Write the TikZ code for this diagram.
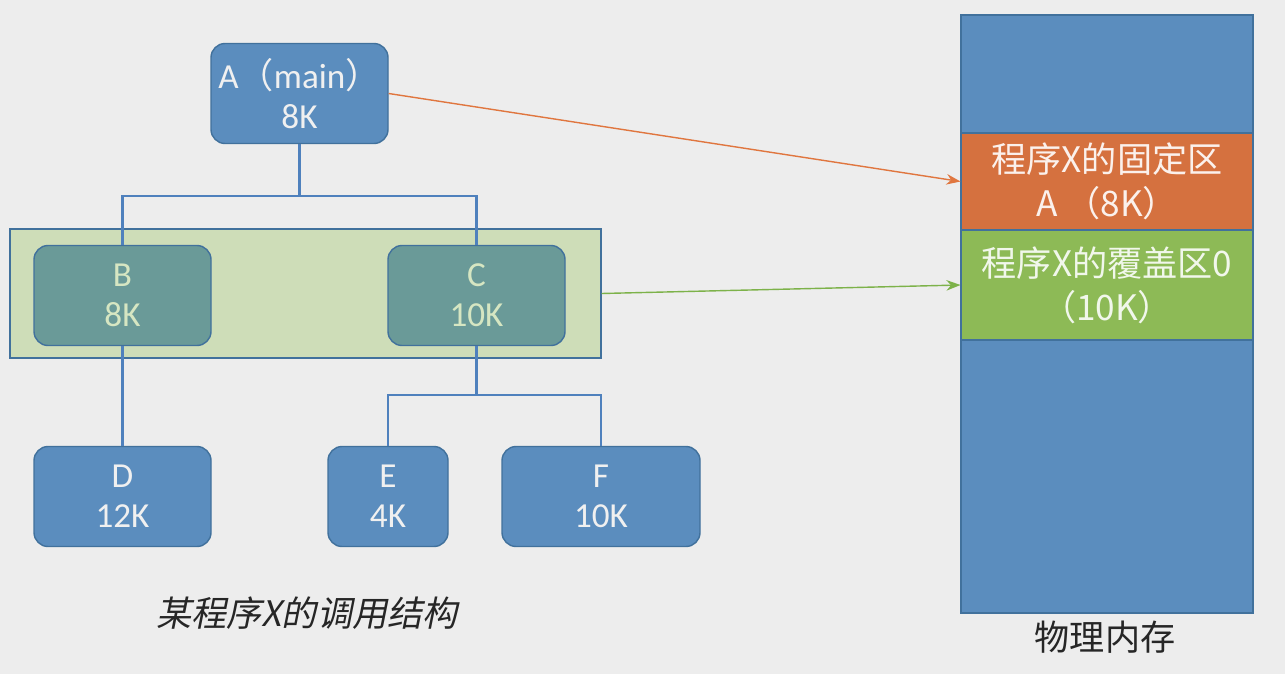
\documentclass[tikz,border=0pt]{standalone}
\usepackage{fontspec}
\setmainfont{Carlito}
\newfontfamily\cjk{Noto Sans CJK SC}
\newfontfamily\cjkit[FakeSlant=0.2]{Noto Sans CJK SC}
\usetikzlibrary{arrows.meta}

\definecolor{bgray}{HTML}{EDEDED}
\definecolor{bfill}{HTML}{5B8DBE}
\definecolor{bline}{HTML}{41719C}
\definecolor{tfill}{HTML}{6A9A98}
\definecolor{ttext}{HTML}{D6E6C2}
\definecolor{lgreen}{HTML}{CEDDB8}
\definecolor{ofill}{HTML}{D5713F}
\definecolor{gfill}{HTML}{8DBA56}
\definecolor{wire}{HTML}{4F81BD}
\definecolor{oarrow}{HTML}{E0763F}
\definecolor{garrow}{HTML}{7DB24A}

\newcommand\lp{{\cjk （}}
\newcommand\rp{{\cjk ）}}

\tikzset{
  every node/.style={font=\fontsize{20}{23}\selectfont, align=center, inner sep=0pt},
  blk/.style={draw=bline, fill=bfill, text=white!94!black, rounded corners=8pt, line width=0.8pt,
    minimum width=3.54cm, minimum height=2cm},
  ovl/.style={blk, fill=tfill, text=ttext},
  zone/.style={draw=bline, line width=0.6pt, minimum width=5.84cm, font=\cjk\fontsize{20}{25}\selectfont},
  link/.style={draw=wire, line width=1.4pt},
  feed/.style={-{Stealth[length=8pt,width=6pt]}, line width=0.8pt}
}

\begin{document}
\begin{tikzpicture}
  \fill[bgray] (0,0) rectangle (25.7,-13.48);
  \useasboundingbox (0,0) rectangle (25.7,-13.48);
  % overlay group
  \node[draw=bline, fill=lgreen, line width=0.6pt, minimum width=11.82cm, minimum height=2.58cm] (g) at (6.11,-5.87) {};
  % call structure
  \node[blk] (a) at (5.99,-1.87) {A\lp main\rp\\8K};
  \node[ovl] (b) at (2.45,-5.91) {B\\8K};
  \node[ovl] (c) at (9.53,-5.91) {C\\10K};
  \node[blk] (d) at (2.45,-9.93) {D\\12K};
  \node[blk, minimum width=2.4cm] (e) at (7.76,-9.93) {E\\4K};
  \node[blk, minimum width=3.96cm] (f) at (12.02,-9.93) {F\\10K};
  \draw[link] (a.south) -- ++(0,-1.04) coordinate (w1);
  \draw[link] (b.north) |- (w1) -| (c.north);
  \draw[link] (b.south) -- (d.north);
  \draw[link] (c.south) -- ++(0,-0.98) coordinate (w2);
  \draw[link] (e.north) |- (w2) -| (f.north);
  \node[text=black!85] (t) at (6.14,-12.26) {\cjkit 某程序X的调用结构};
  % memory
  \node[draw=bline, fill=bfill, line width=0.6pt, minimum width=5.84cm, minimum height=11.96cm] (m) at (22.14,-6.28) {};
  \node[zone, fill=ofill, text=white!90!ofill, minimum height=1.94cm] (x) at (22.14,-3.63) {程序X的固定区\\A （8K）};
  \node[zone, fill=gfill, text=white!88!gfill, minimum height=2.2cm] (o) at (22.14,-5.70) {程序X的覆盖区0\\（10K）};
  \node[text=black!85] (l) at (22.1,-12.74) {\cjk 物理内存};
  \draw[feed, oarrow] (a.east) -- (x.west);
  \draw[feed, garrow] (g.east) -- (o.west);
\end{tikzpicture}
\end{document}
